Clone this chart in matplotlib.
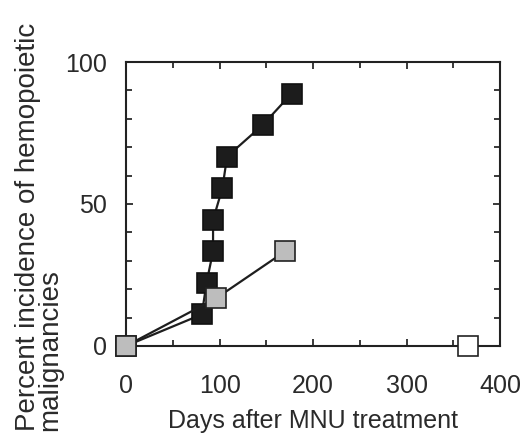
import matplotlib
matplotlib.use("Agg")
import matplotlib.pyplot as plt
import numpy as np

plt.rcParams['font.family'] = ['Liberation Sans', 'DejaVu Sans']

# Data
black_days = [0, 81, 86, 93, 93, 103, 108, 146, 177]
black_pct = [0, 11.1, 22.2, 33.3, 44.4, 55.6, 66.7, 77.8, 88.9]
gray_days = [0, 96, 170]
gray_pct = [0, 16.7, 33.3]
white_days = [366]
white_pct = [0]

x_ticks = [0, 100, 200, 300, 400]
y_ticks = [0, 50, 100]

fig = plt.figure(figsize=(5.21, 4.34), dpi=100)
ax = fig.add_axes([0.242, 0.203, 0.718, 0.654])

txt = '#2a2a2a'
lc = '#1e1e1e'
ax.plot(black_days, black_pct, color=lc, lw=1.6, marker='s', ms=14.5,
        mfc='#1c1c1c', mec='#111111', mew=1.2, clip_on=False, zorder=3)
ax.plot(gray_days, gray_pct, color=lc, lw=1.6, marker='s', ms=14.5,
        mfc='#bdbdbd', mec='#222222', mew=1.2, clip_on=False, zorder=4)
ax.plot(white_days, white_pct, ls='none', marker='s', ms=14.5,
        mfc='white', mec='#222222', mew=1.2, clip_on=False, zorder=4)

ax.set_xlim(0, 400)
ax.set_ylim(0, 100)
ax.set_xticks(x_ticks)
ax.set_xticks(np.arange(0, 401, 50), minor=True)
ax.set_yticks(y_ticks)
ax.set_yticks(np.arange(0, 101, 10), minor=True)
ax.tick_params(which='both', direction='in', top=True, right=True,
               labelsize=18, colors=txt, width=1.3)
ax.tick_params(which='major', length=5)
ax.tick_params(which='minor', length=4)
ax.tick_params(axis='x', which='major', pad=20)
ax.tick_params(axis='y', which='major', pad=14)
for s in ax.spines.values():
    s.set_linewidth(1.5)
    s.set_color('#222222')

ax.set_xlabel('Days after MNU treatment', fontsize=18, color=txt, labelpad=8)
fig.text(0.075, 0.008, 'Percent incidence of hemopoietic\nmalignancies',
         rotation=90, fontsize=20, color=txt, ha='center', va='bottom',
         multialignment='left', linespacing=0.85)

fig.savefig('out.png', dpi=100)
